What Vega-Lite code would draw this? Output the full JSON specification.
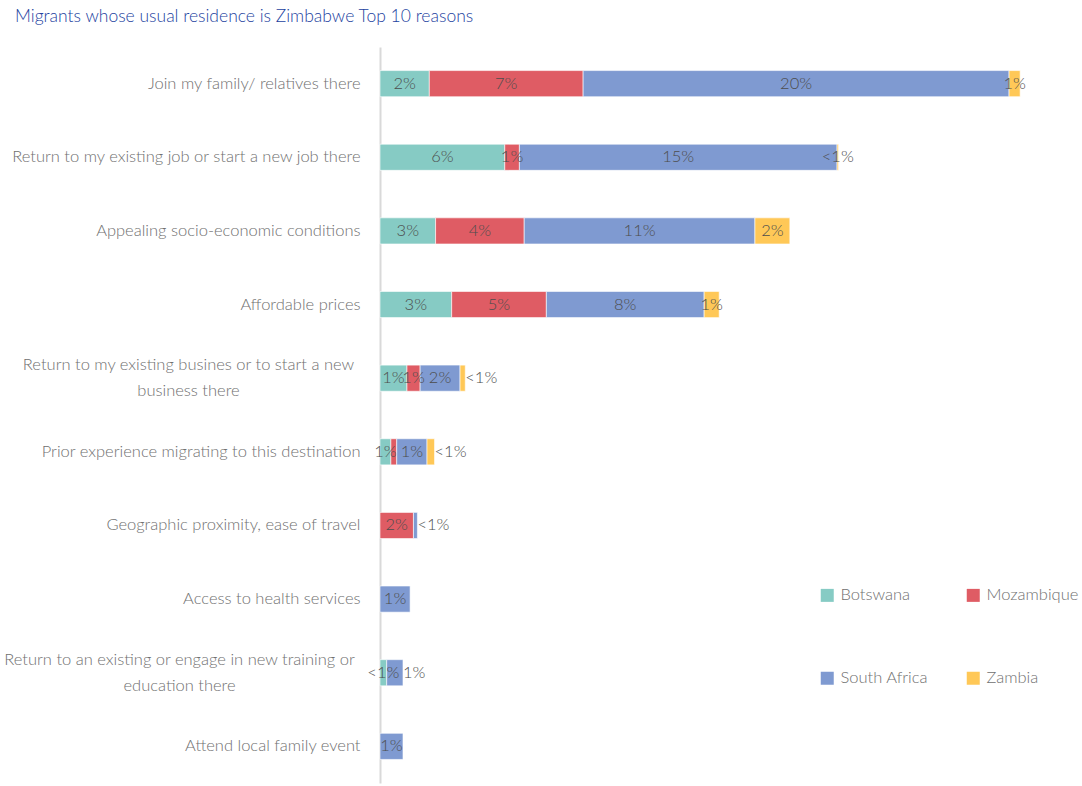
{
  "$schema": "https://vega.github.io/schema/vega-lite/v6.json",
  "autosize": "none",
  "width": 702,
  "height": 736,
  "padding": {"left": 380, "top": 47, "right": 0, "bottom": 3},
  "background": "white",
  "config": {"view": {"stroke": null}, "font": "Lato"},
  "title": {"text": "Migrants whose usual residence is Zimbabwe Top 10 reasons", "anchor": "start", "frame": "group", "dx": -365, "offset": 22, "fontSize": 17.5, "fontWeight": 300, "color": "#2342A0", "font": "Lato"},
  "data": {"values": [
    {"reason": "Join my family/ relatives there", "country": "Botswana", "value": 2.36, "label": "2%"},
    {"reason": "Join my family/ relatives there", "country": "Mozambique", "value": 7.36, "label": "7%"},
    {"reason": "Join my family/ relatives there", "country": "South Africa", "value": 20.38, "label": "20%"},
    {"reason": "Join my family/ relatives there", "country": "Zambia", "value": 0.53, "label": "1%"},
    {"reason": "Return to my existing job or start a new job there", "country": "Botswana", "value": 5.97, "label": "6%"},
    {"reason": "Return to my existing job or start a new job there", "country": "Mozambique", "value": 0.7, "label": "1%"},
    {"reason": "Return to my existing job or start a new job there", "country": "South Africa", "value": 15.2, "label": "15%"},
    {"reason": "Return to my existing job or start a new job there", "country": "Zambia", "value": 0.07, "label": "<1%"},
    {"reason": "Appealing socio-economic conditions", "country": "Botswana", "value": 2.66, "label": "3%"},
    {"reason": "Appealing socio-economic conditions", "country": "Mozambique", "value": 4.24, "label": "4%"},
    {"reason": "Appealing socio-economic conditions", "country": "South Africa", "value": 11.04, "label": "11%"},
    {"reason": "Appealing socio-economic conditions", "country": "Zambia", "value": 1.67, "label": "2%"},
    {"reason": "Affordable prices", "country": "Botswana", "value": 3.43, "label": "3%"},
    {"reason": "Affordable prices", "country": "Mozambique", "value": 4.53, "label": "5%"},
    {"reason": "Affordable prices", "country": "South Africa", "value": 7.55, "label": "8%"},
    {"reason": "Affordable prices", "country": "Zambia", "value": 0.72, "label": "1%"},
    {"reason": "Return to my existing busines or to start a new|business there", "country": "Botswana", "value": 1.29, "label": "1%"},
    {"reason": "Return to my existing busines or to start a new|business there", "country": "Mozambique", "value": 0.63, "label": "1%"},
    {"reason": "Return to my existing busines or to start a new|business there", "country": "South Africa", "value": 1.91, "label": "2%"},
    {"reason": "Return to my existing busines or to start a new|business there", "country": "Zambia", "value": 0.25, "label": "<1%"},
    {"reason": "Prior experience migrating to this destination", "country": "Botswana", "value": 0.52, "label": "1%"},
    {"reason": "Prior experience migrating to this destination", "country": "Mozambique", "value": 0.28, "label": ""},
    {"reason": "Prior experience migrating to this destination", "country": "South Africa", "value": 1.45, "label": "1%"},
    {"reason": "Prior experience migrating to this destination", "country": "Zambia", "value": 0.36, "label": "<1%"},
    {"reason": "Geographic proximity, ease of travel", "country": "Mozambique", "value": 1.6, "label": "2%"},
    {"reason": "Geographic proximity, ease of travel", "country": "South Africa", "value": 0.19, "label": "<1%"},
    {"reason": "Access to health services", "country": "South Africa", "value": 1.44, "label": "1%"},
    {"reason": "Return to an existing or engage in new training or|education there", "country": "Botswana", "value": 0.32, "label": "<1%"},
    {"reason": "Return to an existing or engage in new training or|education there", "country": "South Africa", "value": 0.78, "label": "1%"},
    {"reason": "Attend local family event", "country": "South Africa", "value": 1.1, "label": "1%"}
  ]},
  "transform": [
    {"stack": "value", "groupby": ["reason"], "sort": [{"field": "country", "order": "ascending"}], "as": ["v0", "v1"]},
    {"calculate": "(datum.v0 + datum.v1) / 2", "as": "mid"},
    {"calculate": "(datum.country == 'Zambia' && (indexof(datum.reason, 'busines or') >= 0 || indexof(datum.reason, 'Prior experience') >= 0)) || (datum.country == 'South Africa' && (indexof(datum.reason, 'Geographic') >= 0 || indexof(datum.reason, 'training') >= 0))", "as": "outside"}
  ],
  "encoding": {
    "y": {"field": "reason", "type": "nominal", "sort": [
      "Join my family/ relatives there",
      "Return to my existing job or start a new job there",
      "Appealing socio-economic conditions",
      "Affordable prices",
      "Return to my existing busines or to start a new|business there",
      "Prior experience migrating to this destination",
      "Geographic proximity, ease of travel",
      "Access to health services",
      "Return to an existing or engage in new training or|education there",
      "Attend local family event"],
      "scale": {"paddingInner": 0.645, "paddingOuter": 0.32},
      "axis": {"title": null, "ticks": false, "domain": true, "domainColor": "#d9d9d9", "domainWidth": 2,
        "labelPadding": {"condition": [
          {"test": "indexof(datum.value, 'busines or') >= 0", "value": 192},
          {"test": "indexof(datum.value, 'training or') >= 0", "value": 201}
        ], "value": 20},
        "labelAlign": {"condition": {"test": "indexof(datum.value, '|') >= 0", "value": "center"}, "value": "right"},
        "labelOffset": {"condition": {"test": "indexof(datum.value, '|') >= 0", "value": -13}, "value": 0},
        "labelFontSize": 16.5, "labelColor": "#707070", "labelFont": "Lato", "labelFontWeight": 300, "labelLimit": 0, "labelLineHeight": 26, "labelExpr": "split(datum.value, '|')", "grid": false}
    }
  },
  "layer": [
    {
      "mark": {"type": "bar", "stroke": "#ffffff", "strokeWidth": 0.6},
      "encoding": {
        "x": {"field": "v0", "type": "quantitative", "scale": {"domain": [0, 33.59], "nice": false, "zero": true}, "axis": null},
        "x2": {"field": "v1"},
        "color": {"field": "country", "type": "nominal",
          "scale": {"domain": ["Botswana", "South Africa", "Mozambique", "Zambia"], "range": ["#86CBC4", "#7F9AD1", "#DF5C64", "#FFC857"]},
          "legend": {"title": null, "orient": "none", "legendX": 439, "legendY": 540, "columns": 2, "columnPadding": 36, "rowPadding": 66, "symbolType": "square", "symbolSize": 169, "symbolStrokeWidth": 0, "labelFontSize": 16.5, "labelColor": "#707070", "labelFont": "Lato", "labelFontWeight": 300, "labelOffset": 5}
        }
      }
    },
    {
      "transform": [{"filter": "!datum.outside"}],
      "mark": {"type": "text", "fontSize": 16.5, "color": "#4d4d4d", "fontWeight": 300, "baseline": "middle", "align": "center", "font": "Lato"},
      "encoding": {
        "x": {"field": "mid", "type": "quantitative"},
        "text": {"field": "label"}
      }
    },
    {
      "transform": [{"filter": "datum.outside"}],
      "mark": {"type": "text", "fontSize": 16.5, "color": "#4d4d4d", "fontWeight": 300, "baseline": "middle", "align": "left", "dx": 0, "font": "Lato"},
      "encoding": {
        "x": {"field": "v1", "type": "quantitative"},
        "text": {"field": "label"}
      }
    }
  ]
}
